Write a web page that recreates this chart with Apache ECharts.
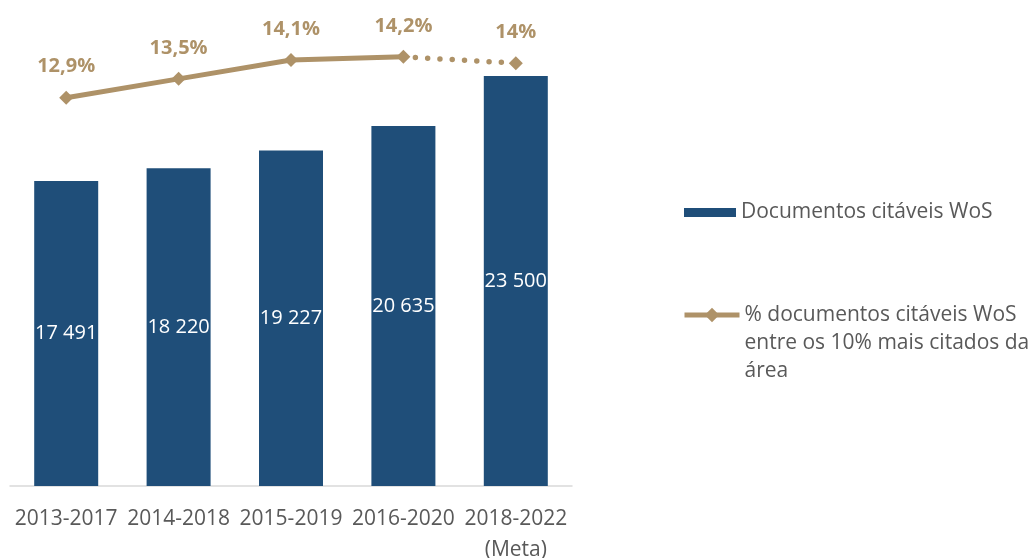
<!DOCTYPE html>
<html>
<head>
<meta charset="utf-8">
<script src="https://cdn.jsdelivr.net/npm/echarts@6/dist/echarts.min.js"></script>
<style>
  html, body { margin: 0; padding: 0; background: #ffffff; }
  #chart { width: 1028px; height: 558px; }
</style>
</head>
<body>
<div id="chart"></div>
<script>
// Five-year windows (last one is the target)
const periods = ['2013-2017', '2014-2018', '2015-2019', '2016-2020', '2018-2022\n(Meta)'];
// Citable WoS documents per window
const docs = [17491, 18220, 19227, 20635, 23500];
// Share of citable docs among the 10% most cited in the field (%)
const topShare = [12.9, 13.5, 14.1, 14.2, 14];
// Index from which values are targets rather than observed
const targetFrom = 4;

const BLUE = '#1F4E79';
const GOLD = '#AE9268';
const GREY = '#595959';
const FONT = '"Open Sans", "Liberation Sans", sans-serif';

const barName = 'Documentos citáveis WoS';
const lineName = '% documentos citáveis WoS\nentre os 10% mais citados da\nárea';

const fmtThousands = v => String(v).replace(/\B(?=(\d{3})+(?!\d))/g, ' ');
const fmtPct = v => String(v).replace('.', ',') + '%';

// observed part drawn solid, target leg drawn dotted
const solidData = topShare.map((v, i) => (i < targetFrom ? v : '-'));
const dottedData = topShare.map((v, i) => {
  if (i < targetFrom - 1) return '-';
  if (i === targetFrom - 1) return { value: v, symbol: 'none', label: { show: false } };
  return v;
});

const chart = echarts.init(document.getElementById('chart'), null, { renderer: 'canvas' });

chart.setOption({
  animation: false,
  textStyle: { fontFamily: FONT },
  grid: { left: 10, right: 456, top: 15, bottom: 72, containLabel: false, outerBoundsMode: 'none' },
  legend: [
    {
      data: [barName],
      left: 684,
      top: 200.5,
      padding: 0,
      itemWidth: 52,
      itemHeight: 9,
      icon: 'rect',
      selectedMode: false,
      textStyle: { color: GREY, fontSize: 21, lineHeight: 24, fontFamily: FONT }
    },
    {
      data: [lineName],
      left: 682,
      top: 245,
      padding: 0,
      itemWidth: 55,
      itemHeight: 18,
      selectedMode: false,
      lineStyle: { width: 5, color: GOLD },
      itemStyle: { color: GOLD },
      // two leading blank lines keep the first text line level with the icon
      formatter: name => '\n\n' + name,
      textStyle: { color: GREY, fontSize: 21, lineHeight: 28, fontFamily: FONT }
    }
  ],
  xAxis: {
    type: 'category',
    data: periods,
    boundaryGap: true,
    axisLine: { show: true, lineStyle: { color: '#D9D9D9', width: 1.5 } },
    axisTick: { show: false },
    axisLabel: {
      interval: 0,
      margin: 18,
      color: GREY,
      fontSize: 21,
      lineHeight: 31,
      fontFamily: FONT
    }
  },
  yAxis: [
    { type: 'value', min: 0, max: 27000, show: false, splitLine: { show: false } },
    { type: 'value', min: 0.56, max: 15.53, show: false, splitLine: { show: false } }
  ],
  series: [
    {
      name: barName,
      type: 'bar',
      data: docs,
      barWidth: 64,
      itemStyle: { color: BLUE },
      label: {
        show: true,
        position: 'inside',
        color: '#ffffff',
        fontSize: 20,
        fontFamily: FONT,
        formatter: p => fmtThousands(p.value)
      }
    },
    {
      name: lineName,
      type: 'line',
      yAxisIndex: 1,
      data: solidData,
      symbol: 'diamond',
      symbolSize: 14,
      lineStyle: { color: GOLD, width: 5 },
      itemStyle: { color: GOLD },
      label: {
        show: true,
        position: 'top',
        distance: 14,
        color: GOLD,
        fontSize: 20,
        fontWeight: 'bold',
        fontFamily: FONT,
        formatter: p => fmtPct(p.value)
      },
      z: 5
    },
    {
      name: 'meta',
      type: 'line',
      yAxisIndex: 1,
      data: dottedData,
      symbol: 'diamond',
      symbolSize: 14,
      lineStyle: { color: GOLD, width: 5.5, type: [0, 12.3], cap: 'round', dashOffset: -12 },
      itemStyle: { color: GOLD },
      label: {
        show: true,
        position: 'top',
        distance: 14,
        color: GOLD,
        fontSize: 20,
        fontWeight: 'bold',
        fontFamily: FONT,
        formatter: p => fmtPct(p.value)
      },
      z: 4
    }
  ]
});
</script>
</body>
</html>
